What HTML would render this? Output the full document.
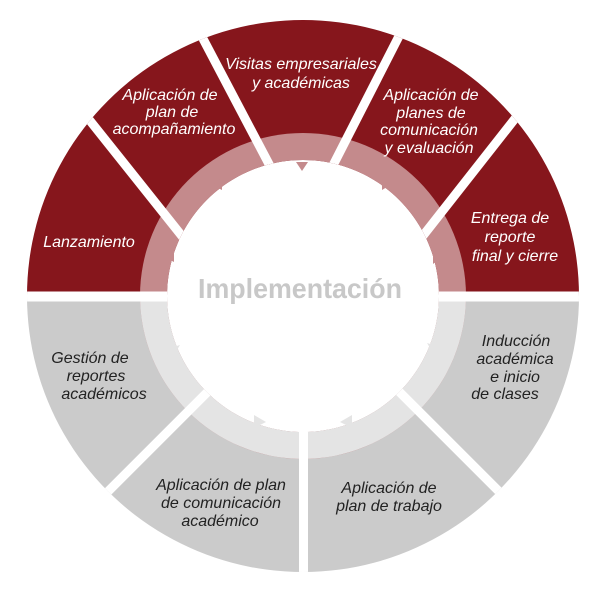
<!DOCTYPE html>
<html><head><meta charset="utf-8"><style>
html,body{margin:0;padding:0;background:#fff;width:600px;height:600px;overflow:hidden}
svg{display:block}
.w{fill:#fff;font-family:"Liberation Sans",sans-serif;font-style:italic;font-size:16px;text-anchor:middle}
.d{fill:#222;font-family:"Liberation Sans",sans-serif;font-style:italic;font-size:16px;text-anchor:middle}
</style></head><body>
<svg width="600" height="600" viewBox="0 0 600 600" xmlns="http://www.w3.org/2000/svg">
<defs>
<clipPath id="c"><path fill-rule="evenodd" d="M303,20 a276,276 0 1,1 -0.01,0 Z M303,160 a136,136 0 1,0 0.01,0 Z"/></clipPath>
</defs>
<g clip-path="url(#c)">
  <rect x="0" y="0" width="600" height="296" fill="#86161c"/>
  <rect x="0" y="296" width="600" height="304" fill="#cbcbcb"/>
  <circle cx="303" cy="296" r="163" fill="#c48a8c"/>
  <path d="M140,296 A163,163 0 0,0 466,296 Z" fill="#e4e4e4"/>
  <rect x="0" y="291.5" width="600" height="10" fill="#fff"/>
  <g stroke="#fff" stroke-width="9">
    <line x1="303.5" y1="296" x2="-100" y2="699.5"/>
    <line x1="303.5" y1="296" x2="303.5" y2="700"/>
    <line x1="303.5" y1="296" x2="707" y2="699.5"/>
    <line x1="40" y1="58" x2="205" y2="265"/>
    <line x1="180" y1="-5" x2="280" y2="185"/>
    <line x1="420" y1="-5" x2="323" y2="185"/>
    <line x1="565" y1="55" x2="400" y2="265"/>
  </g>
</g>
<g fill="#c48a8c">
  <polygon points="296,162 308,162 302,171"/>
  <polygon points="222,178 222,190 212,185"/>
  <polygon points="174,248 174,262 166,258"/>
  <polygon points="382,176 382,190 392,184"/>
  <polygon points="433,250 433,264 441,258"/>
</g>
<g fill="#e4e4e4">
  <polygon points="180,345 172,358 164,350"/>
  <polygon points="254,415 254,428 266,422"/>
  <polygon points="352,415 352,428 340,422"/>
  <polygon points="427,343 435,356 443,348"/>
</g>
<text x="300" y="298" textLength="204" lengthAdjust="spacingAndGlyphs" style="font-family:'Liberation Sans',sans-serif;font-weight:bold;font-size:28px;fill:#c8c8c8" text-anchor="middle">Implementación</text>

<text class="w" x="89" y="247">Lanzamiento</text>
<text class="w"><tspan x="170" y="100">Aplicación de</tspan><tspan x="172" y="117">plan de</tspan><tspan x="174" y="134">acompañamiento</tspan></text>
<text class="w"><tspan x="301" y="69">Visitas empresariales</tspan><tspan x="301" y="88">y académicas</tspan></text>
<text class="w"><tspan x="431" y="100">Aplicación de</tspan><tspan x="431" y="118">planes de</tspan><tspan x="429" y="135">comunicación</tspan><tspan x="429" y="153">y evaluación</tspan></text>
<text class="w"><tspan x="510" y="223">Entrega de</tspan><tspan x="510" y="242">reporte</tspan><tspan x="515" y="261">final y cierre</tspan></text>

<text class="d"><tspan x="90" y="363">Gestión de</tspan><tspan x="96" y="381">reportes</tspan><tspan x="104" y="399">académicos</tspan></text>
<text class="d"><tspan x="516" y="346">Inducción</tspan><tspan x="515" y="364">académica</tspan><tspan x="515" y="382">e inicio</tspan><tspan x="505" y="399">de clases</tspan></text>
<text class="d"><tspan x="221" y="490">Aplicación de plan</tspan><tspan x="221" y="508">de comunicación</tspan><tspan x="220" y="526">académico</tspan></text>
<text class="d"><tspan x="389" y="493">Aplicación de</tspan><tspan x="389" y="511">plan de trabajo</tspan></text>
</svg>
</body></html>
